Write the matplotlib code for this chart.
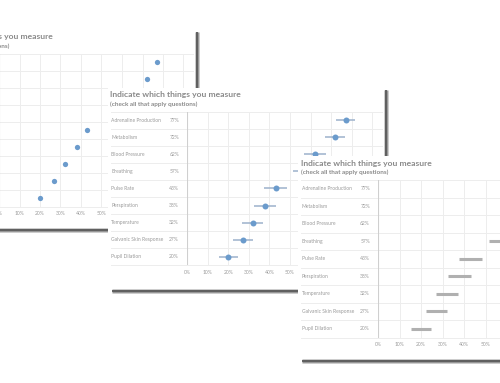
import matplotlib
matplotlib.use("Agg")
import numpy as np
import matplotlib.pyplot as plt
from matplotlib.lines import Line2D
from matplotlib.patches import Rectangle
from matplotlib.transforms import blended_transform_factory

W, H = 500, 383

measures = [
    "Adrenaline Production", "Metabolism", "Blood Pressure", "Breathing",
    "Pulse Rate", "Perspiration", "Temperature", "Galvanic Skin Response",
    "Pupil Dilation",
]
share = [77, 72, 62, 57, 43, 38, 32, 27, 20]
margin = [4.6, 4.9, 5.3, 5.4, 5.5, 5.3, 5.1, 4.9, 4.6]
tick_vals = [0, 10, 20, 30, 40, 50, 60, 70, 80, 90]
tick_labels = [f"{t}%" for t in tick_vals]
title = "Indicate which things you measure"
subtitle = "(check all that apply questions)"

blue = "#6b9bcc"
ci_blue = "#9db2cc"
bar_gray = "#b0b0b0"
text_gray = "#8a8a8a"
label_gray = "#9a9a9a"
grid_gray = "#ededed"

plt.rcParams["font.family"] = ["Lato", "DejaVu Sans"]

fig = plt.figure(figsize=(5, 3.83), dpi=100)
fig.patch.set_facecolor("white")


def fx(x):
    return x / W


def fy(y):
    return 1 - y / H


def shadow(xa, ya, xb, yb, z):
    for lw, col, a in [(5.0, "#9a9a9a", 0.35), (3.4, "#7a7a7a", 0.7), (1.8, "#5a5a5a", 1.0)]:
        fig.add_artist(Line2D([fx(xa), fx(xb)], [fy(ya), fy(yb)],
                              transform=fig.transFigure, lw=lw * 0.72,
                              color=col, alpha=a, solid_capstyle="butt",
                              zorder=z))


def panel(x0, row_top, row_h, pxpct, card, z, kind):
    left, top, right, bottom = card
    # white card hides whatever lies behind it
    fig.add_artist(Rectangle((fx(left), fy(bottom)), (right - left) / W,
                             (bottom - top) / H, transform=fig.transFigure,
                             facecolor="white", edgecolor="none", zorder=z))

    shadow(right + 2, top + 2, right + 2, bottom, z + 0.5)
    shadow(left + 4, bottom + 2.5, right, bottom + 2.5, z + 0.5)

    n = len(measures)
    plot_right = right - 2
    ax = fig.add_axes([fx(x0), fy(row_top + n * row_h),
                       (plot_right - x0) / W, n * row_h / H])
    ax.set_zorder(z + 1)
    ax.patch.set_alpha(0)
    ax.set_xlim(0, (plot_right - x0) / pxpct)
    ax.set_ylim(n - 0.5, -0.5)
    for s in ax.spines.values():
        s.set_visible(False)

    ax.set_xticks(tick_vals)
    ax.set_xticklabels(tick_labels)
    ax.set_yticks([])
    ax.tick_params(axis="x", length=0, pad=3, labelsize=3.6, labelcolor=label_gray)
    ax.grid(axis="x", color=grid_gray, lw=0.7)
    ax.set_axisbelow(True)

    # row separators run across the label column too
    ext = (x0 - (left + 3)) / (plot_right - x0)
    for b in np.arange(-0.5, n, 1.0):
        ax.axhline(b, xmin=-ext, xmax=1, color=grid_gray, lw=0.7, clip_on=False, zorder=0)
    ax.axvline(0, color="#cfcfcf", lw=0.8, zorder=1)

    ypos = np.arange(n)
    if kind == "dot":
        ax.plot(share, ypos, "o", color=blue, ms=3.8, mec="none", zorder=3)
    elif kind == "ci":
        lo = [s - m for s, m in zip(share, margin)]
        hi = [s + m for s, m in zip(share, margin)]
        ax.hlines(ypos, lo, hi, color=ci_blue, lw=1.1, zorder=2)
        ax.plot(share, ypos, "o", color=blue, ms=4.3, mec="none", zorder=3)
    else:
        lo = [s - m for s, m in zip(share, margin)]
        hi = [s + m for s, m in zip(share, margin)]
        ax.hlines(ypos, lo, hi, color=bar_gray, lw=2.2, zorder=2)

    tr = blended_transform_factory(fig.transFigure, ax.transData)
    for i, (name, v) in enumerate(zip(measures, share)):
        ax.text(fx(x0 - 76), i, name, transform=tr, ha="left", va="center",
                fontsize=3.6, color=label_gray)
        ax.text(fx(x0 - 8), i, f"{v}%", transform=tr, ha="right", va="center",
                fontsize=3.6, color=label_gray)

    ty = row_top - 16.5
    ax.text(fx(x0 - 77), fy(ty), title, transform=fig.transFigure, ha="left",
            va="center", fontsize=6.1, fontweight="bold", color=text_gray)
    ax.text(fx(x0 - 77), fy(ty + 9), subtitle, transform=fig.transFigure, ha="left",
            va="center", fontsize=4.6, fontweight="bold", color=text_gray)


panel(-1, 53.5, 17.0, 2.05, (-90, 30, 195, 228), 10, "dot")
panel(187, 111.5, 17.1, 2.06, (108, 88, 384, 288), 20, "ci")
panel(378, 180, 17.5, 2.15, (298, 156, 575, 358), 30, "bar")

fig.savefig("out.png", dpi=100, facecolor="white")
